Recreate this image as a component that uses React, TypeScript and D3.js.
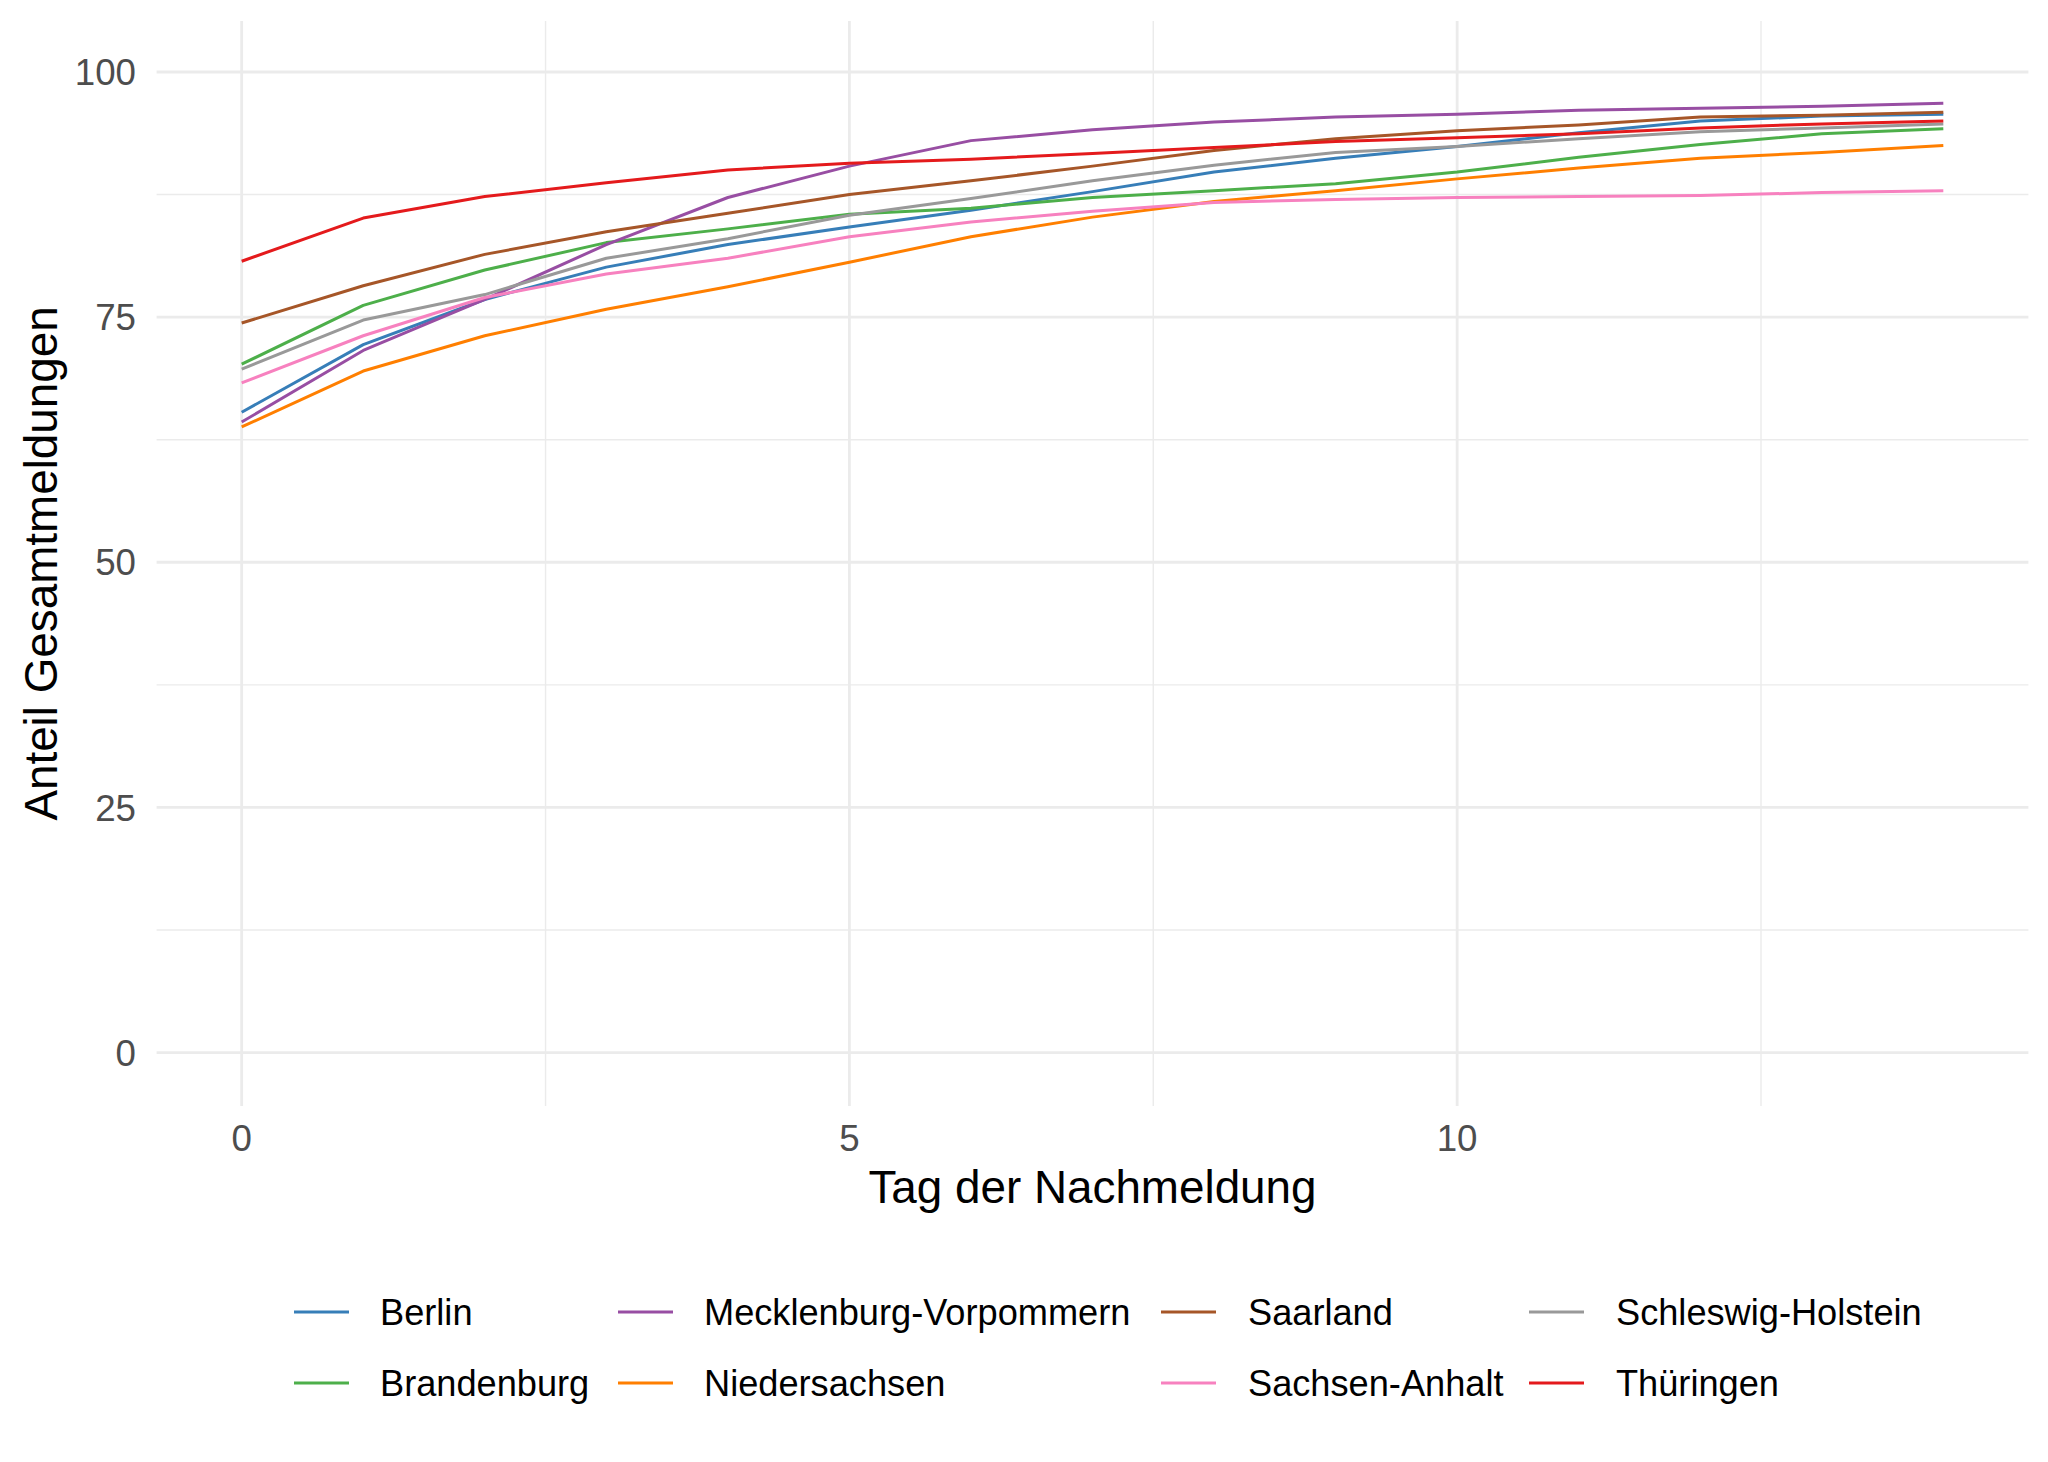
import * as d3 from 'd3';

// Tag der Nachmeldung 0..14
const days = d3.range(0, 15);

const states = [
  'Berlin',
  'Brandenburg',
  'Mecklenburg-Vorpommern',
  'Niedersachsen',
  'Saarland',
  'Sachsen-Anhalt',
  'Schleswig-Holstein',
  'Thüringen',
];

// Set1 palette, in factor order
const colors = ['#377EB8', '#4DAF4A', '#984EA3', '#FF7F00', '#A65628', '#F781BF', '#999999', '#E41A1C'];

const berlin = [65.3, 72.2, 76.8, 80.1, 82.4, 84.2, 85.9, 87.8, 89.8, 91.2, 92.4, 93.8, 95.0, 95.5, 95.7];
const brandenburg = [70.2, 76.2, 79.8, 82.6, 84.0, 85.5, 86.1, 87.2, 87.9, 88.6, 89.8, 91.3, 92.6, 93.7, 94.2];
const mecklenburgVorpommern = [64.3, 71.6, 76.8, 82.4, 87.2, 90.4, 93.0, 94.1, 94.9, 95.4, 95.7, 96.1, 96.3, 96.5, 96.8];
const niedersachsen = [63.8, 69.5, 73.1, 75.8, 78.1, 80.6, 83.2, 85.2, 86.8, 87.9, 89.1, 90.2, 91.2, 91.8, 92.5];
const saarland = [74.4, 78.2, 81.4, 83.7, 85.6, 87.5, 88.9, 90.4, 92.0, 93.2, 94.0, 94.6, 95.4, 95.6, 95.9];
const sachsenAnhalt = [68.3, 73.1, 77.0, 79.4, 81.0, 83.2, 84.7, 85.8, 86.7, 87.0, 87.2, 87.3, 87.4, 87.7, 87.9];
const schleswigHolstein = [69.7, 74.7, 77.3, 81.0, 83.0, 85.4, 87.1, 88.9, 90.5, 91.8, 92.4, 93.2, 93.9, 94.3, 94.7];
const thueringen = [80.7, 85.1, 87.3, 88.7, 90.0, 90.7, 91.1, 91.7, 92.3, 92.9, 93.3, 93.7, 94.3, 94.7, 95.0];

const seriesValues = [
  berlin,
  brandenburg,
  mecklenburgVorpommern,
  niedersachsen,
  saarland,
  sachsenAnhalt,
  schleswigHolstein,
  thueringen,
];

const xTicks = [0, 5, 10];
const xMinor = [2.5, 7.5, 12.5];
const yTicks = [0, 25, 50, 75, 100];
const yMinor = [12.5, 37.5, 62.5, 87.5];

const W = 2048;
const H = 1462;
const FONT = '"Liberation Sans", Arial, sans-serif';

export default function App() {
  const panel = { left: 156.6, right: 2028.4, top: 21, bottom: 1106 };

  const x = d3.scaleLinear().domain([-0.7, 14.7]).range([panel.left, panel.right]);
  const y = d3.scaleLinear().domain([-5.45, 105.2]).range([panel.bottom, panel.top]);

  const line = d3
    .line<number>()
    .x((_, i) => x(days[i]))
    .y(d => y(d));

  // legend: 2 rows, filled by column
  const legendCols = [
    { key: 294, text: 380 },
    { key: 618, text: 704 },
    { key: 1161, text: 1248 },
    { key: 1529, text: 1616 },
  ];
  const legendRows = [1312, 1383];

  return (
    <svg
      width={W}
      height={H}
      style={{ position: 'absolute', left: 0, top: 0, background: '#fff' }}
      fontFamily={FONT}
    >
      {/* grid */}
      {yMinor.map(v => (
        <line key={'ym' + v} x1={panel.left} x2={panel.right} y1={y(v)} y2={y(v)} stroke="#EBEBEB" strokeWidth={1.4} />
      ))}
      {xMinor.map(v => (
        <line key={'xm' + v} x1={x(v)} x2={x(v)} y1={panel.top} y2={panel.bottom} stroke="#EBEBEB" strokeWidth={1.4} />
      ))}
      {yTicks.map(v => (
        <line key={'y' + v} x1={panel.left} x2={panel.right} y1={y(v)} y2={y(v)} stroke="#EBEBEB" strokeWidth={2.8} />
      ))}
      {xTicks.map(v => (
        <line key={'x' + v} x1={x(v)} x2={x(v)} y1={panel.top} y2={panel.bottom} stroke="#EBEBEB" strokeWidth={2.8} />
      ))}

      {/* lines */}
      {seriesValues.map((vals, i) => (
        <path key={states[i]} d={line(vals) ?? ''} fill="none" stroke={colors[i]} strokeWidth={3} strokeLinejoin="round" />
      ))}

      {/* y tick labels */}
      {yTicks.map(v => (
        <text key={'yl' + v} x={136} y={y(v)} dy="0.36em" textAnchor="end" fontSize={36.7} fill="#4D4D4D">
          {v}
        </text>
      ))}
      {/* x tick labels */}
      {xTicks.map(v => (
        <text key={'xl' + v} x={x(v)} y={1151} textAnchor="middle" fontSize={36.7} fill="#4D4D4D">
          {v}
        </text>
      ))}

      {/* axis titles */}
      <text x={(panel.left + panel.right) / 2} y={1203} textAnchor="middle" fontSize={45.8} fill="#000">
        Tag der Nachmeldung
      </text>
      <text
        transform={`translate(57,${(panel.top + panel.bottom) / 2}) rotate(-90)`}
        textAnchor="middle"
        fontSize={45.8}
        fill="#000"
      >
        Anteil Gesamtmeldungen
      </text>

      {/* legend */}
      {states.map((s, i) => {
        const col = legendCols[Math.floor(i / 2)];
        const cy = legendRows[i % 2];
        return (
          <g key={'lg' + s}>
            <line x1={col.key} x2={col.key + 55} y1={cy} y2={cy} stroke={colors[i]} strokeWidth={3} />
            <text x={col.text} y={cy} dy="0.36em" fontSize={36.2} fill="#000">
              {s}
            </text>
          </g>
        );
      })}
    </svg>
  );
}
